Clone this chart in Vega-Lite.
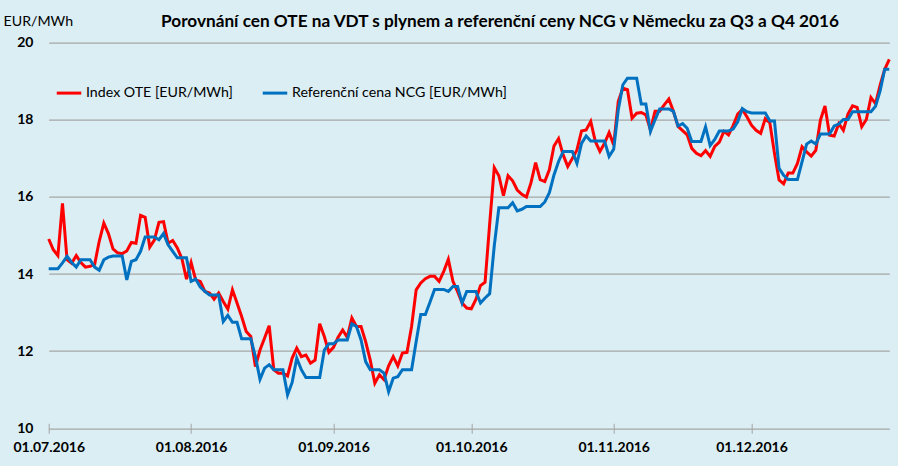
{
  "$schema": "https://vega.github.io/schema/vega-lite/v6.json",
  "width": 840.6,
  "height": 385.6,
  "autosize": {"type": "none"},
  "padding": {"left": 48.7, "top": 42.7, "right": 8.7, "bottom": 37.7},
  "background": "#DAEEF3",
  "config": {"view": {"stroke": null}, "font": "Lato"},
  "title": {
    "text": "Porovnání cen OTE na VDT s plynem a referenční ceny NCG v Německu za Q3 a Q4 2016",
    "font": "Lato", "fontSize": 17.2, "fontWeight": "bold", "color": "#000000",
    "anchor": "middle", "dx": 31, "dy": 16, "offset": 0
  },
  "data": {"values": [
    {"d":"2016-07-01","ote":14.91,"ncg":14.14},{"d":"2016-07-02","ote":14.63,"ncg":14.14},{"d":"2016-07-03","ote":14.48,"ncg":14.14},{"d":"2016-07-04","ote":15.83,"ncg":14.29},{"d":"2016-07-05","ote":14.37,"ncg":14.46},{"d":"2016-07-06","ote":14.28,"ncg":14.30},{"d":"2016-07-07","ote":14.48,"ncg":14.18},{"d":"2016-07-08","ote":14.30,"ncg":14.37},{"d":"2016-07-09","ote":14.18,"ncg":14.37},{"d":"2016-07-10","ote":14.20,"ncg":14.37},
    {"d":"2016-07-11","ote":14.25,"ncg":14.18},{"d":"2016-07-12","ote":14.85,"ncg":14.10},{"d":"2016-07-13","ote":15.32,"ncg":14.37},{"d":"2016-07-14","ote":15.05,"ncg":14.44},{"d":"2016-07-15","ote":14.65,"ncg":14.47},{"d":"2016-07-16","ote":14.55,"ncg":14.47},{"d":"2016-07-17","ote":14.53,"ncg":14.47},{"d":"2016-07-18","ote":14.60,"ncg":13.85},{"d":"2016-07-19","ote":14.82,"ncg":14.33},{"d":"2016-07-20","ote":14.80,"ncg":14.37},
    {"d":"2016-07-21","ote":15.52,"ncg":14.59},{"d":"2016-07-22","ote":15.47,"ncg":14.96},{"d":"2016-07-23","ote":14.70,"ncg":14.96},{"d":"2016-07-24","ote":14.88,"ncg":14.96},{"d":"2016-07-25","ote":15.34,"ncg":14.89},{"d":"2016-07-26","ote":15.36,"ncg":15.05},{"d":"2016-07-27","ote":14.80,"ncg":14.76},{"d":"2016-07-28","ote":14.87,"ncg":14.59},{"d":"2016-07-29","ote":14.68,"ncg":14.42},{"d":"2016-07-30","ote":14.40,"ncg":14.42},{"d":"2016-07-31","ote":13.87,"ncg":14.42},
    {"d":"2016-08-01","ote":14.30,"ncg":13.81},{"d":"2016-08-02","ote":13.85,"ncg":13.87},{"d":"2016-08-03","ote":13.81,"ncg":13.66},{"d":"2016-08-04","ote":13.55,"ncg":13.55},{"d":"2016-08-05","ote":13.51,"ncg":13.46},{"d":"2016-08-06","ote":13.35,"ncg":13.46},{"d":"2016-08-07","ote":13.51,"ncg":13.46},{"d":"2016-08-08","ote":13.29,"ncg":12.77},{"d":"2016-08-09","ote":13.09,"ncg":12.93},{"d":"2016-08-10","ote":13.59,"ncg":12.75},
    {"d":"2016-08-11","ote":13.25,"ncg":12.75},{"d":"2016-08-12","ote":12.90,"ncg":12.32},{"d":"2016-08-13","ote":12.51,"ncg":12.32},{"d":"2016-08-14","ote":12.38,"ncg":12.32},{"d":"2016-08-15","ote":11.60,"ncg":11.86},{"d":"2016-08-16","ote":12.03,"ncg":11.27},{"d":"2016-08-17","ote":12.34,"ncg":11.56},{"d":"2016-08-18","ote":12.66,"ncg":11.65},{"d":"2016-08-19","ote":11.52,"ncg":11.52},{"d":"2016-08-20","ote":11.43,"ncg":11.52},
    {"d":"2016-08-21","ote":11.43,"ncg":11.52},{"d":"2016-08-22","ote":11.36,"ncg":10.87},{"d":"2016-08-23","ote":11.82,"ncg":11.19},{"d":"2016-08-24","ote":12.08,"ncg":11.82},{"d":"2016-08-25","ote":11.86,"ncg":11.52},{"d":"2016-08-26","ote":11.90,"ncg":11.32},{"d":"2016-08-27","ote":11.69,"ncg":11.32},{"d":"2016-08-28","ote":11.77,"ncg":11.32},{"d":"2016-08-29","ote":12.71,"ncg":11.32},{"d":"2016-08-30","ote":12.38,"ncg":12.03},{"d":"2016-08-31","ote":11.97,"ncg":12.19},
    {"d":"2016-09-01","ote":12.10,"ncg":12.19},{"d":"2016-09-02","ote":12.36,"ncg":12.29},{"d":"2016-09-03","ote":12.55,"ncg":12.29},{"d":"2016-09-04","ote":12.36,"ncg":12.29},{"d":"2016-09-05","ote":12.86,"ncg":12.71},{"d":"2016-09-06","ote":12.64,"ncg":12.64},{"d":"2016-09-07","ote":12.64,"ncg":12.29},{"d":"2016-09-08","ote":12.25,"ncg":11.73},{"d":"2016-09-09","ote":11.77,"ncg":11.52},{"d":"2016-09-10","ote":11.17,"ncg":11.52},
    {"d":"2016-09-11","ote":11.39,"ncg":11.52},{"d":"2016-09-12","ote":11.26,"ncg":11.43},{"d":"2016-09-13","ote":11.62,"ncg":10.95},{"d":"2016-09-14","ote":11.86,"ncg":11.30},{"d":"2016-09-15","ote":11.62,"ncg":11.34},{"d":"2016-09-16","ote":11.95,"ncg":11.52},{"d":"2016-09-17","ote":11.97,"ncg":11.52},{"d":"2016-09-18","ote":12.64,"ncg":11.52},{"d":"2016-09-19","ote":13.59,"ncg":12.25},{"d":"2016-09-20","ote":13.77,"ncg":12.95},
    {"d":"2016-09-21","ote":13.88,"ncg":12.95},{"d":"2016-09-22","ote":13.94,"ncg":13.27},{"d":"2016-09-23","ote":13.94,"ncg":13.60},{"d":"2016-09-24","ote":13.81,"ncg":13.60},{"d":"2016-09-25","ote":14.07,"ncg":13.60},{"d":"2016-09-26","ote":14.38,"ncg":13.55},{"d":"2016-09-27","ote":13.81,"ncg":13.68},{"d":"2016-09-28","ote":13.55,"ncg":13.68},{"d":"2016-09-29","ote":13.25,"ncg":13.25},{"d":"2016-09-30","ote":13.12,"ncg":13.55},
    {"d":"2016-10-01","ote":13.10,"ncg":13.55},{"d":"2016-10-02","ote":13.34,"ncg":13.55},{"d":"2016-10-03","ote":13.70,"ncg":13.25},{"d":"2016-10-04","ote":13.79,"ncg":13.38},{"d":"2016-10-05","ote":15.30,"ncg":13.49},{"d":"2016-10-06","ote":16.76,"ncg":14.73},{"d":"2016-10-07","ote":16.55,"ncg":15.72},{"d":"2016-10-08","ote":16.03,"ncg":15.72},{"d":"2016-10-09","ote":16.55,"ncg":15.72},{"d":"2016-10-10","ote":16.42,"ncg":15.85},
    {"d":"2016-10-11","ote":16.18,"ncg":15.64},{"d":"2016-10-12","ote":16.07,"ncg":15.68},{"d":"2016-10-13","ote":16.00,"ncg":15.75},{"d":"2016-10-14","ote":16.37,"ncg":15.75},{"d":"2016-10-15","ote":16.89,"ncg":15.75},{"d":"2016-10-16","ote":16.45,"ncg":15.75},{"d":"2016-10-17","ote":16.40,"ncg":15.87},{"d":"2016-10-18","ote":16.71,"ncg":16.11},{"d":"2016-10-19","ote":17.32,"ncg":16.57},{"d":"2016-10-20","ote":17.51,"ncg":16.92},
    {"d":"2016-10-21","ote":17.09,"ncg":17.18},{"d":"2016-10-22","ote":16.79,"ncg":17.18},{"d":"2016-10-23","ote":17.00,"ncg":17.18},{"d":"2016-10-24","ote":17.22,"ncg":16.87},{"d":"2016-10-25","ote":17.71,"ncg":17.39},{"d":"2016-10-26","ote":17.74,"ncg":17.58},{"d":"2016-10-27","ote":17.96,"ncg":17.45},{"d":"2016-10-28","ote":17.44,"ncg":17.45},{"d":"2016-10-29","ote":17.18,"ncg":17.45},{"d":"2016-10-30","ote":17.39,"ncg":17.45},{"d":"2016-10-31","ote":17.67,"ncg":17.05},
    {"d":"2016-11-01","ote":17.35,"ncg":17.24},{"d":"2016-11-02","ote":18.48,"ncg":18.26},{"d":"2016-11-03","ote":18.82,"ncg":18.91},{"d":"2016-11-04","ote":18.78,"ncg":19.08},{"d":"2016-11-05","ote":18.04,"ncg":19.08},{"d":"2016-11-06","ote":18.17,"ncg":19.08},{"d":"2016-11-07","ote":18.19,"ncg":18.41},{"d":"2016-11-08","ote":18.13,"ncg":18.41},{"d":"2016-11-09","ote":17.74,"ncg":17.70},{"d":"2016-11-10","ote":18.22,"ncg":18.00},
    {"d":"2016-11-11","ote":18.22,"ncg":18.28},{"d":"2016-11-12","ote":18.39,"ncg":18.28},{"d":"2016-11-13","ote":18.54,"ncg":18.28},{"d":"2016-11-14","ote":18.22,"ncg":18.22},{"d":"2016-11-15","ote":17.83,"ncg":17.84},{"d":"2016-11-16","ote":17.72,"ncg":17.90},{"d":"2016-11-17","ote":17.61,"ncg":17.78},{"d":"2016-11-18","ote":17.26,"ncg":17.44},{"d":"2016-11-19","ote":17.13,"ncg":17.44},{"d":"2016-11-20","ote":17.07,"ncg":17.44},
    {"d":"2016-11-21","ote":17.20,"ncg":17.82},{"d":"2016-11-22","ote":17.05,"ncg":17.33},{"d":"2016-11-23","ote":17.31,"ncg":17.49},{"d":"2016-11-24","ote":17.42,"ncg":17.71},{"d":"2016-11-25","ote":17.70,"ncg":17.71},{"d":"2016-11-26","ote":17.61,"ncg":17.71},{"d":"2016-11-27","ote":17.85,"ncg":17.76},{"d":"2016-11-28","ote":18.15,"ncg":17.95},{"d":"2016-11-29","ote":18.27,"ncg":18.29},{"d":"2016-11-30","ote":18.08,"ncg":18.21},
    {"d":"2016-12-01","ote":17.86,"ncg":18.18},{"d":"2016-12-02","ote":17.73,"ncg":18.18},{"d":"2016-12-03","ote":17.65,"ncg":18.18},{"d":"2016-12-04","ote":18.03,"ncg":18.18},{"d":"2016-12-05","ote":17.92,"ncg":17.97},{"d":"2016-12-06","ote":17.13,"ncg":17.97},{"d":"2016-12-07","ote":16.44,"ncg":16.74},{"d":"2016-12-08","ote":16.34,"ncg":16.56},{"d":"2016-12-09","ote":16.62,"ncg":16.45},{"d":"2016-12-10","ote":16.62,"ncg":16.45},
    {"d":"2016-12-11","ote":16.87,"ncg":16.45},{"d":"2016-12-12","ote":17.30,"ncg":16.91},{"d":"2016-12-13","ote":17.17,"ncg":17.37},{"d":"2016-12-14","ote":17.06,"ncg":17.45},{"d":"2016-12-15","ote":17.21,"ncg":17.37},{"d":"2016-12-16","ote":17.99,"ncg":17.63},{"d":"2016-12-17","ote":18.36,"ncg":17.63},{"d":"2016-12-18","ote":17.60,"ncg":17.63},{"d":"2016-12-19","ote":17.58,"ncg":17.84},{"d":"2016-12-20","ote":17.90,"ncg":17.89},
    {"d":"2016-12-21","ote":17.73,"ncg":18.01},{"d":"2016-12-22","ote":18.15,"ncg":18.01},{"d":"2016-12-23","ote":18.36,"ncg":18.21},{"d":"2016-12-24","ote":18.32,"ncg":18.21},{"d":"2016-12-25","ote":17.82,"ncg":18.21},{"d":"2016-12-26","ote":18.01,"ncg":18.21},{"d":"2016-12-27","ote":18.58,"ncg":18.21},{"d":"2016-12-28","ote":18.42,"ncg":18.35},{"d":"2016-12-29","ote":18.90,"ncg":18.75},{"d":"2016-12-30","ote":19.31,"ncg":19.31},{"d":"2016-12-31","ote":19.57,"ncg":19.31}
  ]},
  "transform": [{"fold": ["ote", "ncg"], "as": ["series", "value"]}],
  "mark": {"type": "line", "strokeWidth": 3, "clip": false},
  "encoding": {
    "x": {
      "field": "d", "type": "temporal",
      "scale": {"type": "utc", "domain": [{"year": 2016, "month": 7, "date": 1, "utc": true}, {"year": 2016, "month": 12, "date": 31, "utc": true}]},
      "axis": {
        "title": null, "format": "%d.%m.%Y", "grid": false, "domain": false,
        "values": [
          {"year": 2016, "month": 7, "date": 1, "utc": true},
          {"year": 2016, "month": 8, "date": 1, "utc": true},
          {"year": 2016, "month": 9, "date": 1, "utc": true},
          {"year": 2016, "month": 10, "date": 1, "utc": true},
          {"year": 2016, "month": 11, "date": 1, "utc": true},
          {"year": 2016, "month": 12, "date": 1, "utc": true}
        ],
        "offset": -5, "tickSize": 10, "tickColor": "#A6A6A6", "tickWidth": 1,
        "labelFont": "Lato", "labelFontSize": 14, "labelFontWeight": "bold", "labelColor": "#000000",
        "labelPadding": 7, "labelFlush": false, "labelOverlap": false
      }
    },
    "y": {
      "field": "value", "type": "quantitative",
      "scale": {"domain": [10, 20], "nice": false, "zero": false},
      "axis": {
        "values": [10, 12, 14, 16, 18, 20], "grid": true, "gridColor": "#A6A6A6", "gridWidth": 1.3,
        "domain": false, "ticks": false,
        "labelFont": "Lato", "labelFontSize": 14, "labelFontWeight": "bold", "labelColor": "#000000", "labelPadding": 15.7,
        "title": "EUR/MWh", "titleAngle": 0, "titleX": -45.7, "titleY": -17.7, "titleAlign": "left", "titleBaseline": "alphabetic",
        "titleFont": "Lato", "titleFontSize": 14.2, "titleFontWeight": "normal", "titleColor": "#000000"
      }
    },
    "color": {
      "field": "series", "type": "nominal",
      "scale": {"domain": ["ote", "ncg"], "range": ["#FF0000", "#0070C0"]},
      "sort": ["ote", "ncg"],
      "legend": {
        "title": null, "orient": "none", "legendX": 6.3, "legendY": 36, "direction": "horizontal",
        "symbolType": "stroke", "symbolSize": 600, "symbolStrokeWidth": 3,
        "labelFont": "Lato", "labelFontSize": 14.2, "labelColor": "#000000", "labelOffset": 3, "labelLimit": 400,
        "columnPadding": 23,
        "labelExpr": "datum.label == 'ote' ? 'Index OTE [EUR/MWh]' : 'Referenční cena NCG [EUR/MWh]'"
      }
    }
  }
}
